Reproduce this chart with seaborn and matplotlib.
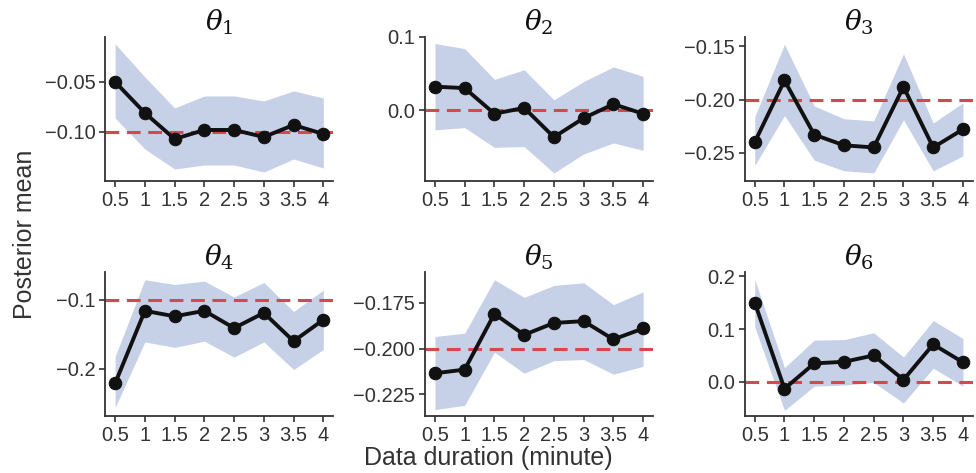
import matplotlib
matplotlib.use("Agg")
import matplotlib.pyplot as plt
import numpy as np
import pandas as pd
import seaborn as sns

# data duration in minutes
durations = [0.5, 1, 1.5, 2, 2.5, 3, 3.5, 4]
tick_labels = ["0.5", "1", "1.5", "2", "2.5", "3", "3.5", "4"]

# posterior means and credible bands
theta1_mean = [-0.050, -0.081, -0.107, -0.098, -0.098, -0.105, -0.093, -0.102]
theta1_low = [-0.086, -0.117, -0.137, -0.133, -0.133, -0.140, -0.127, -0.136]
theta1_high = [-0.012, -0.045, -0.076, -0.064, -0.064, -0.069, -0.059, -0.066]

theta2_mean = [0.032, 0.030, -0.005, 0.003, -0.037, -0.011, 0.008, -0.005]
theta2_low = [-0.027, -0.024, -0.051, -0.050, -0.086, -0.060, -0.045, -0.055]
theta2_high = [0.091, 0.084, 0.042, 0.055, 0.014, 0.039, 0.059, 0.046]

theta3_mean = [-0.240, -0.182, -0.233, -0.243, -0.245, -0.188, -0.245, -0.228]
theta3_low = [-0.262, -0.215, -0.257, -0.267, -0.269, -0.219, -0.267, -0.253]
theta3_high = [-0.216, -0.148, -0.206, -0.218, -0.220, -0.157, -0.222, -0.203]

theta4_mean = [-0.221, -0.116, -0.124, -0.116, -0.141, -0.119, -0.160, -0.129]
theta4_low = [-0.256, -0.161, -0.169, -0.160, -0.183, -0.161, -0.201, -0.172]
theta4_high = [-0.182, -0.071, -0.078, -0.073, -0.096, -0.075, -0.117, -0.086]

theta5_mean = [-0.2135, -0.2115, -0.181, -0.1925, -0.186, -0.185, -0.195, -0.189]
theta5_low = [-0.2334, -0.231, -0.202, -0.2135, -0.2066, -0.206, -0.214, -0.2097]
theta5_high = [-0.1934, -0.1916, -0.1624, -0.172, -0.1655, -0.164, -0.176, -0.169]

theta6_mean = [0.150, -0.013, 0.035, 0.038, 0.050, 0.004, 0.071, 0.037]
theta6_low = [0.104, -0.054, -0.008, -0.006, -0.001, -0.040, 0.026, -0.008]
theta6_high = [0.194, 0.027, 0.079, 0.080, 0.093, 0.047, 0.116, 0.082]

true_values = [-0.1, 0.0, -0.2, -0.1, -0.2, 0.0]
titles = [r"$\theta_1$", r"$\theta_2$", r"$\theta_3$",
          r"$\theta_4$", r"$\theta_5$", r"$\theta_6$"]
yticks = [[-0.10, -0.05], [0.0, 0.1], [-0.25, -0.20, -0.15],
          [-0.2, -0.1], [-0.225, -0.200, -0.175], [0.0, 0.1, 0.2]]
ytick_fmt = ["{:.2f}", "{:.1f}", "{:.2f}", "{:.1f}", "{:.3f}", "{:.1f}"]
ylims = [(-0.149, -0.005), (-0.097, 0.100), (-0.2766, -0.141),
         (-0.2686, -0.060), (-0.237, -0.1582), (-0.065, 0.2077)]

means = [theta1_mean, theta2_mean, theta3_mean, theta4_mean, theta5_mean, theta6_mean]
lows = [theta1_low, theta2_low, theta3_low, theta4_low, theta5_low, theta6_low]
highs = [theta1_high, theta2_high, theta3_high, theta4_high, theta5_high, theta6_high]

sns.set_style("ticks")
plt.rcParams["font.family"] = ["Liberation Sans", "DejaVu Sans"]
plt.rcParams["mathtext.fontset"] = "dejavuserif"
plt.rcParams["axes.unicode_minus"] = True

text_color = "#333333"
band_color = "#c6d1e7"
ref_color = "#d6474f"

fig, axes = plt.subplots(2, 3, figsize=(9.76, 4.73), dpi=100)
fig.subplots_adjust(left=0.1076, right=0.997, bottom=0.12, top=0.922,
                    wspace=0.40, hspace=0.632)

for i, ax in enumerate(axes.flat):
    df = pd.DataFrame({"duration": durations, "mean": means[i],
                       "low": lows[i], "high": highs[i]})
    ax.fill_between(df["duration"], df["low"], df["high"],
                    color=band_color, linewidth=0, zorder=1)
    ax.axhline(true_values[i], color=ref_color, linestyle=(0, (4.5, 2.5)),
               linewidth=2.2, zorder=2)
    sns.lineplot(data=df, x="duration", y="mean", ax=ax, color="#111111",
                 linewidth=2.8, marker="o", markersize=9,
                 markeredgecolor="#111111", zorder=3)

    ax.set_xlim(0.33, 4.17)
    ax.set_ylim(*ylims[i])
    ax.set_xticks(durations)
    ax.set_xticklabels(tick_labels)
    ax.set_yticks(yticks[i])
    ax.set_yticklabels([ytick_fmt[i].format(v).replace("-", "\u2212")
                        for v in yticks[i]])
    ax.tick_params(labelsize=14.5, colors=text_color, length=4, width=1.2, pad=3)
    ax.set_xlabel("")
    ax.set_ylabel("")
    ax.set_title(titles[i], fontsize=20, pad=3, color="#111111")
    for side in ["left", "bottom"]:
        ax.spines[side].set_color(text_color)
        ax.spines[side].set_linewidth(1.3)
    sns.despine(ax=ax)

fig.text(0.026, 0.505, "Posterior mean", rotation=90, ha="center", va="center",
         fontsize=18, color=text_color)
fig.text(0.5, 0.032, "Data duration (minute)", ha="center", va="center",
         fontsize=18, color=text_color)

fig.savefig("out.png", dpi=100)
